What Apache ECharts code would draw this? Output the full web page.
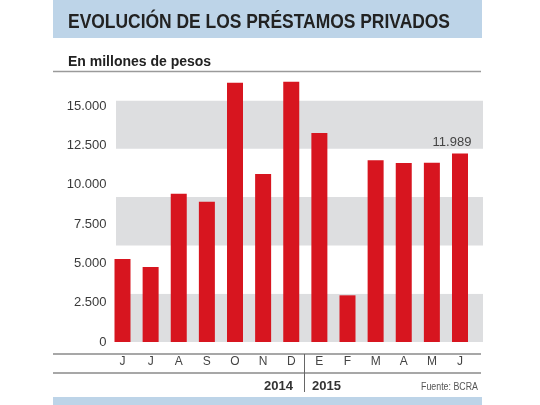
<!DOCTYPE html>
<html>
<head>
<meta charset="utf-8">
<script src="https://cdn.jsdelivr.net/npm/echarts@6/dist/echarts.min.js"></script>
<style>html,body{margin:0;padding:0;background:#fff;}#c{width:540px;height:405px;}</style>
</head>
<body>
<div id="c"></div>
<script>
const categories = ['J','J','A','S','O','N','D','E','F','M','A','M','J'];
const values = [5275, 4767, 9428, 8919, 16483, 10678, 16547, 13284, 2966, 11547, 11377, 11398, 11989];
const yTicks = [0, 2500, 5000, 7500, 10000, 12500, 15000];
const years = ['2014', '2015'];
const titleText = 'EVOLUCIÓN DE LOS PRÉSTAMOS PRIVADOS';
const subtitleText = 'En millones de pesos';
const sourceText = 'Fuente: BCRA';

function fmt(v){ return String(v).replace(/\B(?=(\d{3})+(?!\d))/g, '.'); }

const mctx = document.createElement('canvas').getContext('2d');
function fitScale(text, font, target){
  mctx.font = font;
  return target / mctx.measureText(text).width;
}
const titleFont = 'bold 20px "Liberation Sans", Arial, sans-serif';
const sourceFont = '11px "Liberation Sans", Arial, sans-serif';
const titleScale = fitScale(titleText, titleFont, 382);
const sourceScale = fitScale(sourceText, sourceFont, 57);

const chart = echarts.init(document.getElementById('c'), null, {renderer:'canvas'});
const lastIdx = values.length - 1;
const data = values.map((v, i) => i === lastIdx ? {value: v, label: {show: true}} : v);

chart.setOption({
  animation: false,
  backgroundColor: '#fff',
  grid: [
    {left: 108.44, right: 65.94, top: 66.67, bottom: 63},
    {left: 116, right: 57, top: 66.67, bottom: 63}
  ],
  xAxis: [
    {type: 'category', gridIndex: 0, data: categories,
     axisLine: {show: false}, axisTick: {show: false},
     axisLabel: {margin: 14, color: '#444', fontSize: 12, fontFamily: 'Liberation Sans, Arial, sans-serif'}},
    {type: 'value', gridIndex: 1, min: 0, max: 1, show: false}
  ],
  yAxis: [
    {type: 'value', gridIndex: 0, min: 0, max: 17500, interval: 2500,
     axisLine: {show: false}, axisTick: {show: false}, splitLine: {show: false},
     axisLabel: {margin: 2, color: '#3a3a3a', fontSize: 13, fontFamily: 'Liberation Sans, Arial, sans-serif',
       showMaxLabel: false,
       formatter: v => yTicks.indexOf(v) >= 0 ? fmt(v) : ''}},
    {type: 'value', gridIndex: 1, min: 0, max: 17500, interval: 3070,
     axisLine: {show: false}, axisTick: {show: false}, axisLabel: {show: false},
     splitLine: {show: false},
     splitArea: {show: true, areaStyle: {color: ['#dddee0', '#ffffff']}}}
  ],
  series: [{
    type: 'bar', xAxisIndex: 0, yAxisIndex: 0, data: data, barWidth: 16, z: 5,
    itemStyle: {color: '#d7151f'},
    label: {show: false, position: 'top', distance: 4, offset: [-8, 0], color: '#444', fontSize: 13,
      fontFamily: 'Liberation Sans, Arial, sans-serif', formatter: p => fmt(p.value)}
  }],
  graphic: [
    {type: 'rect', shape: {x: 53, y: 0, width: 429, height: 38}, style: {fill: '#bdd4e8'}, z: 1},
    {type: 'text', x: 68, y: 22.5, scaleX: titleScale, style: {text: titleText, fill: '#222', font: titleFont, verticalAlign: 'middle'}, z: 2},
    {type: 'text', x: 68, y: 62, style: {text: subtitleText, fill: '#222', font: 'bold 14px "Liberation Sans", Arial, sans-serif', verticalAlign: 'middle'}, z: 2},
    {type: 'line', shape: {x1: 53, y1: 71.5, x2: 481, y2: 71.5}, style: {stroke: '#9a9a9a', lineWidth: 1.5}, z: 2},
    {type: 'line', shape: {x1: 53, y1: 354, x2: 481, y2: 354}, style: {stroke: '#8a8a8a', lineWidth: 1.5}, z: 2},
    {type: 'line', shape: {x1: 53, y1: 373, x2: 481, y2: 373}, style: {stroke: '#8a8a8a', lineWidth: 1.5}, z: 2},
    {type: 'line', shape: {x1: 304.5, y1: 354, x2: 304.5, y2: 392}, style: {stroke: '#666', lineWidth: 1}, z: 2},
    {type: 'text', x: 293, y: 386, style: {text: years[0], fill: '#333', font: 'bold 13px "Liberation Sans", Arial, sans-serif', align: 'right', verticalAlign: 'middle'}, z: 2},
    {type: 'text', x: 312, y: 386, style: {text: years[1], fill: '#333', font: 'bold 13px "Liberation Sans", Arial, sans-serif', align: 'left', verticalAlign: 'middle'}, z: 2},
    {type: 'text', x: 478, y: 387, scaleX: sourceScale, style: {text: sourceText, fill: '#555', font: sourceFont, align: 'right', verticalAlign: 'middle'}, z: 2},
    {type: 'rect', shape: {x: 53, y: 397, width: 429, height: 8}, style: {fill: '#bdd4e8'}, z: 1}
  ]
});
</script>
</body>
</html>
